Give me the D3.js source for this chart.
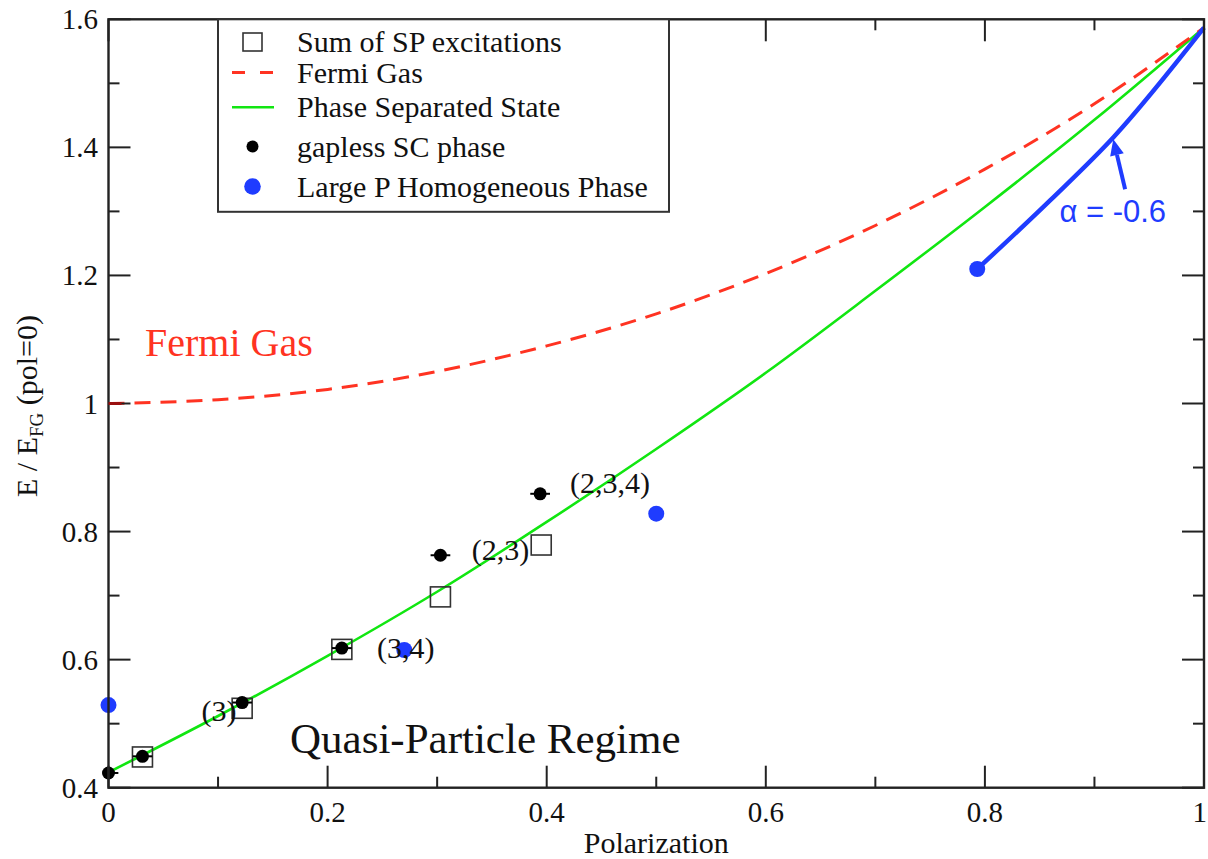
<!DOCTYPE html>
<html>
<head>
<meta charset="utf-8">
<script src="https://cdn.jsdelivr.net/npm/d3@7/dist/d3.min.js"></script>
<style>
  html, body { margin: 0; padding: 0; background: #fff; }
  svg { display: block; }
  svg text { font-family: "Liberation Serif", "Times New Roman", serif; fill: #111; }
</style>
</head>
<body>
<svg id="chart" width="1208" height="859"></svg>
<script>
// ---- data ----
const curveP        = [0, 0.1, 0.2, 0.3, 0.4, 0.5, 0.6, 0.7, 0.8, 0.9, 1.0];
const fermiGas      = [1.000, 1.006, 1.022, 1.050, 1.090, 1.140, 1.203, 1.278, 1.366, 1.468, 1.587];
const phaseSep      = [0.424, 0.512, 0.606, 0.706, 0.815, 0.929, 1.048, 1.176, 1.307, 1.443, 1.587];

const spP           = [0.031, 0.122, 0.213, 0.303, 0.395];
const spE           = [0.448, 0.524, 0.616, 0.698, 0.779];

const gaplessP      = [0, 0.031, 0.122, 0.213, 0.303, 0.394];
const gaplessE      = [0.423, 0.449, 0.533, 0.618, 0.763, 0.859];
const gaplessErrP   = [0.009, 0.009, 0.009, 0.009, 0.009, 0.009];

const largeP        = [0, 0.27, 0.5, 0.793];
const largeE        = [0.529, 0.615, 0.828, 1.21];

const alphaP        = [0.793, 0.86, 0.918, 1.0];
const alphaE        = [1.21, 1.318, 1.417, 1.587];

const xTicks        = [0, 0.2, 0.4, 0.6, 0.8, 1];
const xTickLabels   = ["0", "0.2", "0.4", "0.6", "0.8", "1"];
const yTicks        = [0.4, 0.6, 0.8, 1.0, 1.2, 1.4, 1.6];
const yTickLabels   = ["0.4", "0.6", "0.8", "1", "1.2", "1.4", "1.6"];
const legendLabels  = ["Sum of SP excitations", "Fermi Gas", "Phase Separated State", "gapless SC phase", "Large P Homogeneous Phase"];

// ---- layout ----
const SERIF = "'Liberation Serif', 'Times New Roman', serif";
const SANS = "'Liberation Sans', Arial, sans-serif";
const RED = "#ff3322", GREEN = "#11e611", BLUE = "#1f3cff";
const L = 108.5, R = 1204, T = 19.3, B = 787.7;
const svg = d3.select("#chart");
const x = d3.scaleLinear().domain([0, 1]).range([L, R]);
const y = d3.scaleLinear().domain([0.4, 1.6]).range([B, T]);

function txt(g, xx, yy, s, size, color, family) {
  return g.append("text").attr("x", xx).attr("y", yy)
    .style("font-family", family || SERIF).style("font-size", size + "px")
    .style("fill", color || "#111").text(s);
}

const plot = svg.append("g");

// curves
const line = d3.line().x(d => x(d[0])).y(d => y(d[1])).curve(d3.curveMonotoneX);
plot.append("path")
  .attr("d", line(curveP.map((p, i) => [p, phaseSep[i]])))
  .attr("fill", "none").attr("stroke", GREEN).attr("stroke-width", 2.6);
plot.append("path")
  .attr("d", line(curveP.map((p, i) => [p, fermiGas[i]])))
  .attr("fill", "none").attr("stroke", RED).attr("stroke-width", 3)
  .attr("stroke-dasharray", "16,10");

// blue alpha line
plot.append("path")
  .attr("d", line(alphaP.map((p, i) => [p, alphaE[i]])))
  .attr("fill", "none").attr("stroke", BLUE).attr("stroke-width", 4.5);

// squares
plot.selectAll("rect.sp").data(spP.map((p, i) => [p, spE[i]])).join("rect")
  .attr("x", d => x(d[0]) - 10).attr("y", d => y(d[1]) - 10)
  .attr("width", 20).attr("height", 20)
  .attr("fill", "none").attr("stroke", "#333").attr("stroke-width", 1.6);

// gapless with error bars
const gd = gaplessP.map((p, i) => [p, gaplessE[i], gaplessErrP[i]]);
plot.selectAll("line.err").data(gd).join("line")
  .attr("x1", d => x(Math.max(0, d[0] - d[2]))).attr("x2", d => x(d[0] + d[2]))
  .attr("y1", d => y(d[1])).attr("y2", d => y(d[1]))
  .attr("stroke", "#000").attr("stroke-width", 2);
plot.selectAll("circle.gap").data(gd).join("circle")
  .attr("cx", d => x(d[0])).attr("cy", d => y(d[1])).attr("r", 6.5).attr("fill", "#000");

// large P
plot.selectAll("circle.lp").data(largeP.map((p, i) => [p, largeE[i]])).join("circle")
  .attr("cx", d => x(d[0])).attr("cy", d => y(d[1])).attr("r", 8).attr("fill", BLUE);

// frame and ticks
const axes = svg.append("g");
axes.append("rect").attr("x", L).attr("y", T).attr("width", R - L).attr("height", B - T)
  .attr("fill", "none").attr("stroke", "#222").attr("stroke-width", 2.4);
const xMinor = d3.range(0, 11).map(i => i / 10);
const yMinor = d3.range(4, 17).map(i => i / 10);
xMinor.forEach((v, i) => {
  const len = (i % 2 === 0) ? 22 : 11;
  axes.append("line").attr("x1", x(v)).attr("x2", x(v)).attr("y1", B).attr("y2", B - len).attr("stroke", "#222").attr("stroke-width", 2);
  axes.append("line").attr("x1", x(v)).attr("x2", x(v)).attr("y1", T).attr("y2", T + len).attr("stroke", "#222").attr("stroke-width", 2);
});
yMinor.forEach((v, i) => {
  const len = (i % 2 === 0) ? 22 : 11;
  axes.append("line").attr("y1", y(v)).attr("y2", y(v)).attr("x1", L).attr("x2", L + len).attr("stroke", "#222").attr("stroke-width", 2);
  axes.append("line").attr("y1", y(v)).attr("y2", y(v)).attr("x1", R).attr("x2", R - len).attr("stroke", "#222").attr("stroke-width", 2);
});
// dark red overlap at y=1
axes.append("line").attr("x1", x(0)).attr("x2", x(0) + 13).attr("y1", y(1)).attr("y2", y(1))
  .attr("stroke", "#9a1010").attr("stroke-width", 3);

// tick labels
xTicks.forEach((v, i) => {
  const last = i === xTicks.length - 1;
  txt(axes, last ? 1207 : x(v), 822, xTickLabels[i], 29)
    .attr("text-anchor", last ? "end" : "middle");
});
yTicks.forEach((v, i) => {
  txt(axes, 98, y(v) + 10, yTickLabels[i], 29).attr("text-anchor", "end");
});

// axis titles
txt(axes, (L + R) / 2, 853, "Polarization", 30).attr("text-anchor", "middle");
const yt = axes.append("text").attr("transform", "translate(37,406) rotate(-90)")
  .attr("text-anchor", "middle").style("font-family", SERIF).style("font-size", "30px").style("fill", "#111");
yt.append("tspan").text("E / E");
yt.append("tspan").style("font-size", "19px").attr("dy", 6).text("FG");
yt.append("tspan").attr("dy", -6).text(" (pol=0)");

// annotations
const ann = svg.append("g");
txt(ann, x(0.0333), y(1.074), "Fermi Gas", 40, RED);
txt(ann, x(0.1657), y(0.4547), "Quasi-Particle Regime", 43);
txt(ann, x(0.085), y(0.504), "(3)", 30);
txt(ann, x(0.245), y(0.602), "(3,4)", 30);
txt(ann, x(0.3315), y(0.7556), "(2,3)", 30);
txt(ann, x(0.4213), y(0.86), "(2,3,4)", 30);
txt(ann, x(0.868), y(1.284), "α = -0.6", 31, BLUE, SANS);
// arrow
const ax1 = x(0.928), ay1 = y(1.3345), ax2 = x(0.9172), ay2 = y(1.4126);
const ang = Math.atan2(ay2 - ay1, ax2 - ax1);
const hl = 16, hw = 7;
const bx = ax2 - hl * Math.cos(ang), by = ay2 - hl * Math.sin(ang);
ann.append("line").attr("x1", ax1).attr("y1", ay1).attr("x2", bx).attr("y2", by)
  .attr("stroke", BLUE).attr("stroke-width", 4);
ann.append("path")
  .attr("d", `M${ax2},${ay2} L${bx + hw * Math.sin(ang)},${by - hw * Math.cos(ang)} L${bx - hw * Math.sin(ang)},${by + hw * Math.cos(ang)} Z`)
  .attr("fill", BLUE);

// legend
const lg = svg.append("g");
lg.append("rect").attr("x", 218).attr("y", 19.3).attr("width", 451).attr("height", 192.5)
  .attr("fill", "#fff").attr("stroke", "#333").attr("stroke-width", 2);
const rowY = [42, 72.5, 107.3, 146.5, 186.5];
const sx = 252.5;
lg.append("rect").attr("x", sx - 9.5).attr("y", rowY[0] - 9).attr("width", 19).attr("height", 18)
  .attr("fill", "none").attr("stroke", "#333").attr("stroke-width", 1.6);
lg.append("line").attr("x1", 232).attr("x2", 274).attr("y1", rowY[1]).attr("y2", rowY[1])
  .attr("stroke", RED).attr("stroke-width", 3).attr("stroke-dasharray", "13,15");
lg.append("line").attr("x1", 232).attr("x2", 274).attr("y1", rowY[2]).attr("y2", rowY[2])
  .attr("stroke", GREEN).attr("stroke-width", 2.6);
lg.append("circle").attr("cx", sx).attr("cy", rowY[3]).attr("r", 6).attr("fill", "#000");
lg.append("circle").attr("cx", sx).attr("cy", rowY[4]).attr("r", 8.3).attr("fill", BLUE);
legendLabels.forEach((t, i) => {
  txt(lg, 297, rowY[i] + 10, t, 30);
});
</script>
</body>
</html>
